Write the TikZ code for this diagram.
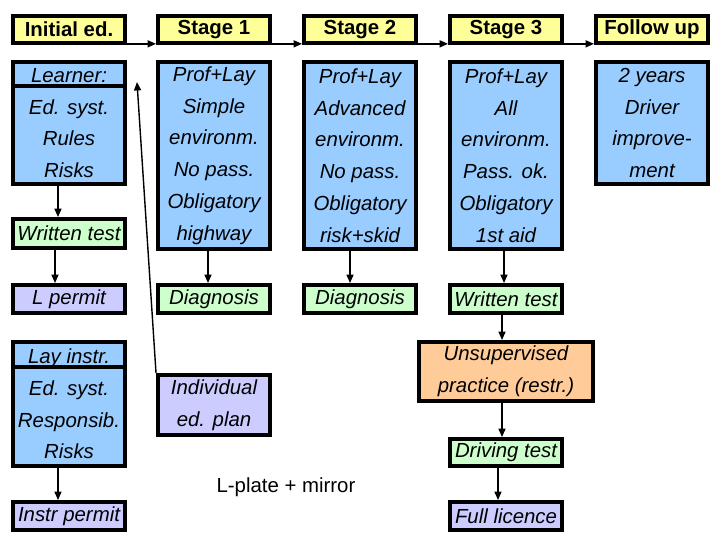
\documentclass[tikz,border=0pt]{standalone}
\usepackage{fontspec}
\setmainfont{Liberation Sans}
\usepackage{xcolor}
\definecolor{dlyellow}{HTML}{FFFF99}
\definecolor{dlblue}{HTML}{99CCFF}
\definecolor{dlgreen}{HTML}{CCFFCC}
\definecolor{dllilac}{HTML}{CCCCFF}
\definecolor{dlorange}{HTML}{FFCC99}
\usetikzlibrary{arrows.meta,calc}
\tikzset{
  dlbox/.style={draw,line width=2.8pt,inner sep=1pt,align=center,minimum width=2.8cm,font=\fontsize{14.5}{22.6}\selectfont\itshape},
  dlhead/.style={dlbox,fill=dlyellow,minimum height=0.675cm,font=\fontsize{14.5}{22.6}\selectfont\bfseries},
  dlinfo/.style={dlbox,fill=dlblue},
  dltest/.style={dlbox,fill=dlgreen,minimum height=0.7cm},
  dlpermit/.style={dlbox,fill=dllilac,minimum height=0.7cm},
  dlsep/.style={line width=2.8pt},
  dlflow/.style={-{Triangle[length=6pt,width=5pt]},line width=1pt},
}
\begin{document}
\begin{tikzpicture}[x=0.025cm,y=-0.025cm]
 % graduated driver licensing stages
\useasboundingbox (0,0) rectangle (720,540);
\node[dlhead] (hinit) at (69,29.5){Initial ed.};
\node[dlhead] (hstage1) at (214,29.5){Stage 1};
\node[dlhead] (hstage2) at (360,29.5){Stage 2};
\node[dlhead] (hstage3) at (506,29.5){Stage 3};
\node[dlhead] (hfollow) at (652,29.5){Follow up};
\node[dlinfo,minimum height=3.05cm] (learner) at (69,123){Learner:\\Ed. syst.\\Rules\\Risks};
\node[dlinfo,minimum height=4.675cm] (stage1) at (214,155.5){Prof+Lay\\Simple\\environm.\\No pass.\\Obligatory\\highway};
\node[dlinfo,minimum height=4.675cm] (stage2) at (360,155.5){Prof+Lay\\Advanced\\environm.\\No pass.\\Obligatory\\risk+skid};
\node[dlinfo,minimum height=4.675cm] (stage3) at (506,155.5){Prof+Lay\\All\\environm.\\Pass. ok.\\Obligatory\\1st aid};
\node[dlinfo,minimum height=3.05cm] (follow) at (652,123){2 years\\Driver\\improve-\\ment};
\node[dltest,minimum height=0.725cm] (written1) at (69,233.5){Written test};
\node[dlpermit] (lpermit) at (69,299){L permit};
\node[dltest] (diag1) at (214,299){Diagnosis};
\node[dltest] (diag2) at (360,299){Diagnosis};
\node[dltest] (written3) at (506,299){Written test};
\node[dlinfo,minimum height=3.1cm] (layinstr) at (69,404){Lay instr.\\Ed. syst.\\Responsib.\\Risks};
\node[dlpermit] (ipermit) at (69,516){Instr permit};
\node[dlpermit,minimum height=1.5cm] (edplan) at (214,405){Individual\\ed. plan};
\node[font=\fontsize{14.5}{22.6}\selectfont] (lplate) at (286,487){L-plate + mirror};
\node[dlbox,fill=dlorange,minimum width=4.35cm,minimum height=1.475cm] (unsup) at (506,371.5){Unsupervised\\practice (restr.)};
\node[dltest,minimum height=0.675cm] (drivetest) at (506,452.5){Driving test};
\node[dlpermit] (full) at (506,516){Full licence};
% separators under the box titles
\coordinate (lsep) at (0,86);
\coordinate (ysep) at (0,367);
\draw[dlsep](learner.west |- lsep) -- (learner.east |- lsep);
\draw[dlsep](layinstr.west |- ysep) -- (layinstr.east |- ysep);
% stage sequence
\draw[dlflow]([yshift=0.8pt]hinit.south east) -- ([yshift=0.8pt]hstage1.south west);
\draw[dlflow]([yshift=0.8pt]hstage1.south east) -- ([yshift=0.8pt]hstage2.south west);
\draw[dlflow]([yshift=0.8pt]hstage2.south east) -- ([yshift=0.8pt]hstage3.south west);
\draw[dlflow]([yshift=0.8pt]hstage3.south east) -- ([yshift=0.8pt]hfollow.south west);
% downward flows
\draw[dlflow]($(learner.south)+(-11,0)$) -- ($(written1.north)+(-11,0)$);
\draw[dlflow]($(written1.south)+(-14,0)$) -- ($(lpermit.north)+(-14,0)$);
\draw[dlflow]($(layinstr.south)+(-11,0)$) -- ($(ipermit.north)+(-11,0)$);
\draw[dlflow]($(stage1.south)+(-6,0)$) -- ($(diag1.north)+(-6,0)$);
\draw[dlflow]($(stage2.south)+(-10,0)$) -- ($(diag2.north)+(-10,0)$);
\draw[dlflow]($(stage3.south)+(-2,0)$) -- ($(written3.north)+(-2,0)$);
\draw[dlflow]($(written3.south)+(-4,0)$) -- ($(unsup.north)+(-4,0)$);
\draw[dlflow]($(unsup.south)+(-4,0)$) -- ($(drivetest.north)+(-4,0)$);
\draw[dlflow]($(drivetest.south)+(-8,0)$) -- ($(full.north)+(-8,0)$);
% plan feeds back to initial education
\coordinate (plantip) at (137,82);
\draw[dlflow](edplan.north west) -- (plantip);
\end{tikzpicture}
\end{document}
